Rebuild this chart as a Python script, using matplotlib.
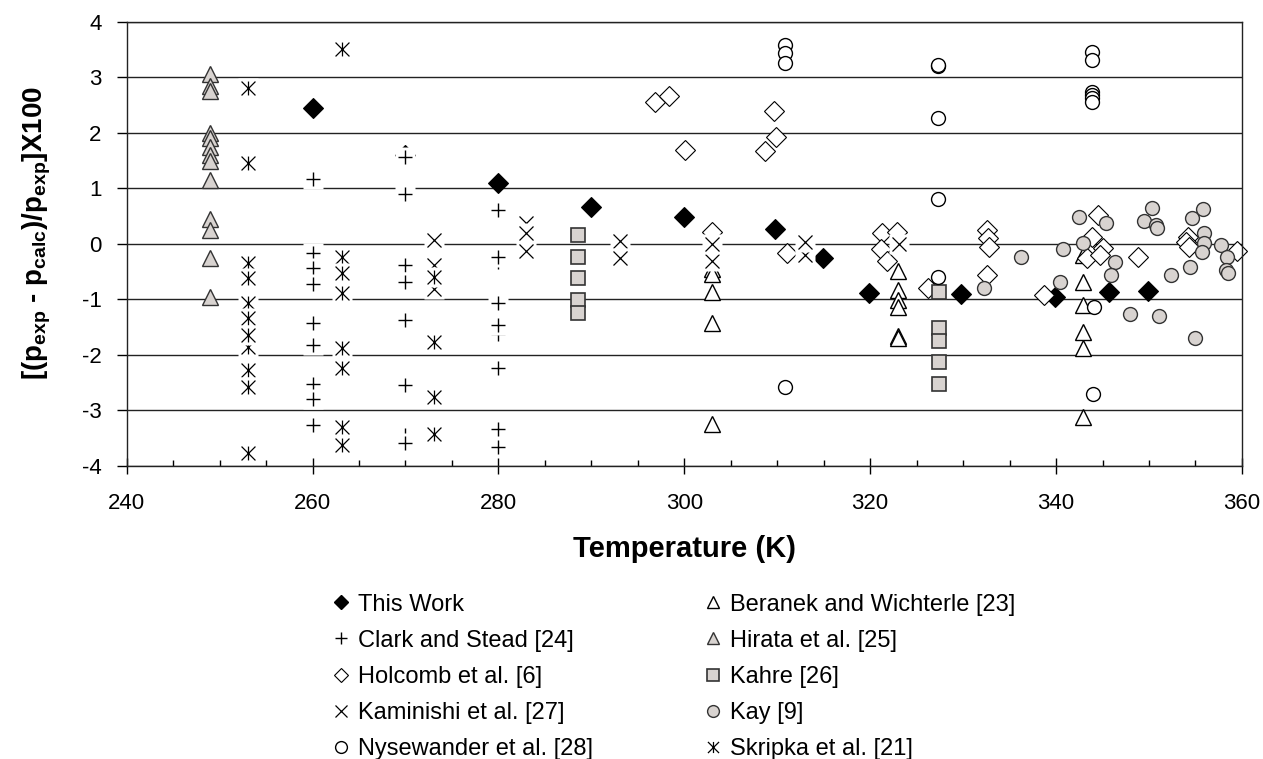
import matplotlib
matplotlib.use("Agg")
import matplotlib.pyplot as plt
from matplotlib.lines import Line2D
from matplotlib.path import Path
from matplotlib.ticker import MultipleLocator

plt.rcParams["font.family"] = ["Liberation Sans", "DejaVu Sans"]
plt.rcParams["mathtext.fontset"] = "custom"
plt.rcParams["mathtext.rm"] = "Liberation Sans"
plt.rcParams["mathtext.bf"] = "Liberation Sans:bold"
plt.rcParams["axes.unicode_minus"] = False

GRAY = "#d8d3d0"

# deviations [(p_exp - p_calc)/p_exp]x100 against temperature (K)
this_work_t = [260.0, 270.0, 280.0, 290.0, 300.0, 309.8, 314.9, 319.9, 329.8, 339.9, 345.7, 349.9]
this_work_dev = [2.45, 1.60, 1.10, 0.67, 0.48, 0.26, -0.26, -0.88, -0.91, -0.95, -0.86, -0.85]

beranek_t = [303.0, 303.0, 303.0, 303.0, 303.0,
             323.0, 323.0, 323.0, 323.0, 323.0, 323.0,
             342.9, 342.9, 342.9, 342.9, 342.9, 342.9]
beranek_dev = [-0.45, -0.55, -0.86, -1.43, -3.24,
               -0.49, -0.83, -1.01, -1.13, -1.66, -1.70,
               -0.20, -0.68, -1.10, -1.59, -1.88, -3.12]

clark_t = [260.0, 260.0, 260.0, 260.0, 260.0, 260.0, 260.0, 260.0, 260.0,
           270.0, 270.0, 270.0, 270.0, 270.0, 270.0, 270.0, 270.0,
           280.0, 280.0, 280.0, 280.0, 280.0, 280.0, 280.0, 280.0, 280.0]
clark_dev = [1.16, -0.16, -0.43, -0.73, -1.43, -1.82, -2.52, -2.79, -3.27,
             1.57, 0.89, -0.38, -0.68, -1.37, -2.55, -3.45, -3.58,
             0.61, -0.33, -0.24, -1.06, -1.63, -1.46, -2.24, -3.33, -3.66]

hirata_t = [249.0, 249.0, 249.0, 249.0, 249.0, 249.0, 249.0, 249.0, 249.0, 249.0, 249.0, 249.0, 249.0]
hirata_dev = [3.05, 2.85, 2.75, 2.00, 1.90, 1.75, 1.60, 1.50, 1.15, 0.45, 0.25, -0.25, -0.95]

holcomb_t = [296.8, 298.4, 300.1, 303.0, 309.7, 309.9, 308.7, 311.1,
             321.3, 321.2, 321.8, 322.9, 326.2,
             332.6, 332.7, 332.8, 332.6, 338.7,
             344.5, 343.9, 345.1, 343.3, 344.7, 348.8,
             354.2, 354.0, 354.3, 359.5]
holcomb_dev = [2.56, 2.66, 1.69, 0.22, 2.40, 1.93, 1.68, -0.17,
               0.20, -0.10, -0.30, 0.22, -0.80,
               0.25, 0.10, -0.06, -0.56, -0.92,
               0.52, 0.13, -0.07, -0.26, -0.20, -0.23,
               0.12, 0.04, -0.05, -0.13]

kahre_t = [288.6, 288.6, 288.6, 288.6, 288.6, 327.4, 327.4, 327.4, 327.4, 327.4]
kahre_dev = [0.16, -0.24, -0.62, -1.01, -1.25, -0.86, -1.52, -1.74, -2.13, -2.52]

kaminishi_t = [273.1, 273.1, 273.1, 283.0, 283.0, 283.0, 293.1, 293.1,
               303.0, 303.0, 313.0, 313.0, 323.1]
kaminishi_dev = [0.07, -0.38, -0.82, 0.38, 0.20, -0.13, 0.05, -0.26,
                 -0.30, 0.00, -0.20, 0.03, 0.00]

kay_t = [332.3, 336.2, 340.4, 340.7, 342.5, 342.9, 345.4, 346.3, 345.9, 348.0,
         349.5, 350.3, 350.8, 350.9, 351.1, 352.4, 354.4, 354.6, 354.9, 355.8,
         355.9, 355.9, 355.7, 357.7, 358.4, 358.3, 358.5]
kay_dev = [-0.80, -0.23, -0.68, -0.10, 0.48, 0.01, 0.37, -0.32, -0.56, -1.27,
           0.41, 0.64, 0.34, 0.28, -1.30, -0.56, -0.41, 0.46, -1.70, 0.62,
           0.19, 0.01, -0.14, -0.02, -0.23, -0.47, -0.53]

nysewander_t = [310.8, 310.8, 310.8, 310.8,
                327.3, 327.3, 327.3, 327.3, 327.3,
                343.9, 343.9, 343.9, 343.9, 343.9, 343.9, 344.1, 344.0]
nysewander_dev = [3.58, 3.43, 3.25, -2.58,
                  3.20, 3.22, 2.26, 0.80, -0.60,
                  3.46, 3.31, 2.74, 2.68, 2.62, 2.56, -1.13, -2.70]

skripka_t = [253.1, 253.1, 253.1, 253.1, 253.1, 253.1, 253.1, 253.1, 253.1, 253.1, 253.1,
             263.2, 263.2, 263.2, 263.2, 263.2, 263.2, 263.2, 263.2,
             273.1, 273.1, 273.1, 273.1]
skripka_dev = [2.80, 1.45, -0.35, -0.62, -1.07, -1.34, -1.85, -1.64, -2.28, -2.57, -3.77,
               3.50, -0.23, -0.53, -0.89, -1.88, -2.24, -3.30, -3.63,
               -0.60, -1.77, -2.76, -3.42]

# excel style asterisk: cross plus vertical bar
asterisk = Path([(0, -1), (0, 1), (-1, -1), (1, 1), (-1, 1), (1, -1)],
                [Path.MOVETO, Path.LINETO, Path.MOVETO, Path.LINETO, Path.MOVETO, Path.LINETO])

# series in drawing order (excel draws them in this order, later ones on top)
series = [
    ("This Work", this_work_t, this_work_dev, dict(marker="D", ms=10, mfc="black", mec="black", mew=0.8), False),
    ("Beranek and Wichterle [23]", beranek_t, beranek_dev, dict(marker="^", ms=11, mfc="white", mec="black", mew=1.0), False),
    ("Clark and Stead [24]", clark_t, clark_dev, dict(marker="+", ms=10, mec="black", mew=1.0), True),
    ("Hirata et al. [25]", hirata_t, hirata_dev, dict(marker="^", ms=11, mfc=GRAY, mec="#333333", mew=1.0), False),
    ("Holcomb et al. [6]", holcomb_t, holcomb_dev, dict(marker="D", ms=10, mfc="white", mec="black", mew=0.8), False),
    ("Kahre [26]", kahre_t, kahre_dev, dict(marker="s", ms=10, mfc=GRAY, mec="#333333", mew=1.2), False),
    ("Kaminishi et al. [27]", kaminishi_t, kaminishi_dev, dict(marker="x", ms=10, mec="black", mew=0.9), True),
    ("Kay [9]", kay_t, kay_dev, dict(marker="o", ms=10, mfc=GRAY, mec="#333333", mew=1.0), False),
    ("Nysewander et al. [28]", nysewander_t, nysewander_dev, dict(marker="o", ms=10, mfc="white", mec="black", mew=1.0), False),
    ("Skripka et al. [21]", skripka_t, skripka_dev, dict(marker=asterisk, ms=10, mec="black", mew=0.9), True),
]

fig = plt.figure(figsize=(12.63, 7.59), dpi=100)
ax = fig.add_axes([0.1003, 0.386, 0.883, 0.5854])

for name, t, dev, style, boxed in series:
    for x, y in zip(t, dev):
        if boxed:
            # the line markers have a white background square, which hides what is under them
            ax.plot([x], [y], ls="none", marker="s", ms=style["ms"] + 4, mfc="white", mec="none", clip_on=False)
        ax.plot([x], [y], ls="none", clip_on=False, **style)

ax.set_xlim(240, 360)
ax.set_ylim(-4, 4)
ax.xaxis.set_major_locator(MultipleLocator(20))
ax.xaxis.set_minor_locator(MultipleLocator(5))
ax.yaxis.set_major_locator(MultipleLocator(1))
ax.set_axisbelow(True)
ax.yaxis.grid(True, color="#222222", lw=1.0)

for side in ["left", "right", "top", "bottom"]:
    ax.spines[side].set_color("#222222")
    ax.spines[side].set_linewidth(1.0)

ax.tick_params(axis="x", which="major", direction="inout", length=11, width=1.0, labelsize=16, pad=14)
ax.tick_params(axis="x", which="minor", direction="in", length=4, width=1.0)
ax.tick_params(axis="y", which="major", direction="out", length=7, width=1.0, labelsize=16, pad=11)

ax.set_xlabel("Temperature (K)", fontsize=21, fontweight="bold")
ax.xaxis.set_label_coords(0.5, -0.155)
ax.set_ylabel(r"[(p$_{\mathbf{exp}}$ - p$_{\mathbf{calc}}$)/p$_{\mathbf{exp}}$]X100", fontsize=20, fontweight="bold")
ax.yaxis.set_label_coords(-0.066, 0.524)

# legend in two columns, same order as the original
legend_styles = {
    "This Work": dict(marker="D", ms=7.5, mfc="black", mec="black"),
    "Clark and Stead [24]": dict(marker="+", ms=9, mec="black", mew=1.0),
    "Holcomb et al. [6]": dict(marker="D", ms=7.5, mfc="white", mec="black", mew=0.8),
    "Kaminishi et al. [27]": dict(marker="x", ms=8, mec="black", mew=0.9),
    "Nysewander et al. [28]": dict(marker="o", ms=8.5, mfc="white", mec="black", mew=1.0),
    "Beranek and Wichterle [23]": dict(marker="^", ms=9, mfc="white", mec="black", mew=1.0),
    "Hirata et al. [25]": dict(marker="^", ms=9, mfc=GRAY, mec="#333333", mew=1.0),
    "Kahre [26]": dict(marker="s", ms=9, mfc=GRAY, mec="#333333", mew=1.2),
    "Kay [9]": dict(marker="o", ms=8.5, mfc=GRAY, mec="#333333", mew=1.0),
    "Skripka et al. [21]": dict(marker=asterisk, ms=8, mec="black", mew=0.9),
}
col1 = ["This Work", "Clark and Stead [24]", "Holcomb et al. [6]", "Kaminishi et al. [27]", "Nysewander et al. [28]"]
col2 = ["Beranek and Wichterle [23]", "Hirata et al. [25]", "Kahre [26]", "Kay [9]", "Skripka et al. [21]"]

for labels, x0 in [(col1, 0.2629), (col2, 0.5574)]:
    handles = [Line2D([], [], ls="none", **legend_styles[lab]) for lab in labels]
    fig.legend(handles, labels, loc="upper left", bbox_to_anchor=(x0, 0.218), frameon=False,
               fontsize=17, handlelength=0.8, handletextpad=0.3, labelspacing=0.6,
               borderpad=0, borderaxespad=0)

fig.savefig("out.png", dpi=100)
